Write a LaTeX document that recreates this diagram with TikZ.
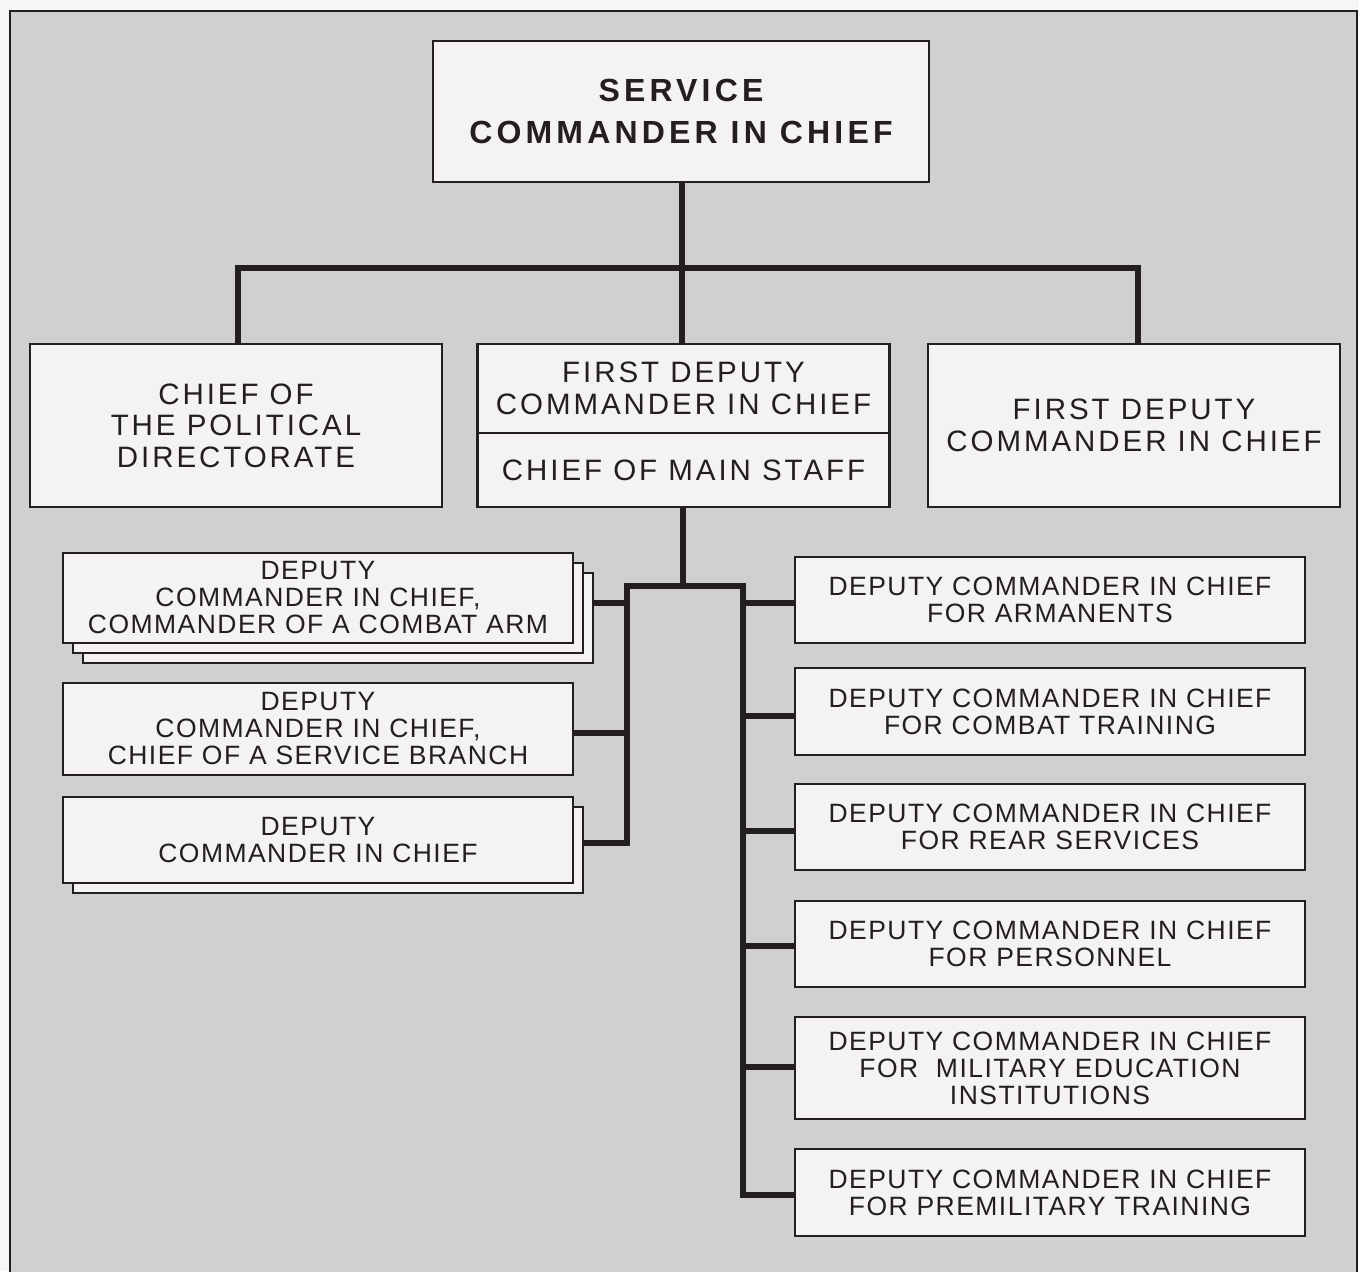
\documentclass[tikz,border=0pt]{standalone}
\usepackage{fontspec}
\setmainfont{Liberation Sans}
\newfontfamily\smf[LetterSpace=5.5]{Liberation Sans}
\newfontfamily\bgf[LetterSpace=10]{Liberation Sans}
\newfontfamily\tpf[LetterSpace=13]{Liberation Sans}
\definecolor{ink}{RGB}{35,31,32}
\definecolor{paper}{RGB}{244,243,241}
\definecolor{screen}{RGB}{208,208,206}
\definecolor{outer}{RGB}{246,246,244}
\pgfdeclarelayer{bg}
\pgfsetlayers{bg,main}
\tikzset{
  box/.style={draw=ink, line width=2.2pt, fill=paper, inner sep=0pt, align=center, text=ink},
  sbox/.style={box, minimum width=510pt, font={\smf\fontsize{26.5}{27}\selectfont}},
  bbox/.style={box, minimum width=412pt, minimum height=163pt, font={\bgf\fontsize{29.5}{31.5}\selectfont}},
  conn/.style={draw=ink, line width=5.5pt, line join=miter},
  frame/.style={draw=ink, line width=2pt}
}
\begin{document}
\begin{tikzpicture}[x=1pt,y=-1pt]
\useasboundingbox (0,0) rectangle (1359,1271);
% top
\node[box, minimum width=496pt, minimum height=141pt, font={\tpf\bfseries\fontsize{32}{42}\selectfont}] (sc) at (681,111.5) {SERVICE\\COMMANDER IN CHIEF};
% second row
\node[bbox] (pd) at (236,425.5) {CHIEF OF\\THE POLITICAL\\DIRECTORATE};
\node[bbox, minimum height=89pt] (fd1) at (683.5,388.5) {FIRST DEPUTY\\COMMANDER IN CHIEF};
\node[bbox, minimum height=74pt] (fd2) at (683.5,470) {CHIEF OF MAIN STAFF};
\node[bbox] (rd) at (1134,425.5) {FIRST DEPUTY\\COMMANDER IN CHIEF};
% left column
\node[sbox, minimum height=90pt] (l1c) at (338,618) {};
\node[sbox, minimum height=90pt] (l1b) at (328,608) {};
\node[sbox, minimum height=90pt] (l1) at (318,598) {DEPUTY\\COMMANDER IN CHIEF,\\COMMANDER OF A COMBAT ARM};
\node[sbox, minimum height=92pt] (l2) at (318,729) {DEPUTY\\COMMANDER IN CHIEF,\\CHIEF OF A SERVICE BRANCH};
\node[sbox, minimum height=86pt] (l3b) at (328,850) {};
\node[sbox, minimum height=86pt] (l3) at (318,840) {DEPUTY\\COMMANDER IN CHIEF};
% right column
\node[sbox, minimum height=86pt] (r1) at (1050,600) {DEPUTY COMMANDER IN CHIEF\\FOR ARMANENTS};
\node[sbox, minimum height=87pt] (r2) at (1050,711.5) {DEPUTY COMMANDER IN CHIEF\\FOR COMBAT TRAINING};
\node[sbox, minimum height=86pt] (r3) at (1050,827) {DEPUTY COMMANDER IN CHIEF\\FOR REAR SERVICES};
\node[sbox, minimum height=86pt] (r4) at (1050,944) {DEPUTY COMMANDER IN CHIEF\\FOR PERSONNEL};
\node[sbox, minimum height=102pt] (r5) at (1050,1068) {DEPUTY COMMANDER IN CHIEF\\FOR~ MILITARY EDUCATION\\INSTITUTIONS};
\node[sbox, minimum height=87pt] (r6) at (1050,1192.5) {DEPUTY COMMANDER IN CHIEF\\FOR PREMILITARY TRAINING};
% connector points
\coordinate (hc) at (682,268);
\coordinate (hl) at (238,268);
\coordinate (hr) at (1138,268);
\coordinate (mc) at (683,586);
\coordinate (ml) at (627,586);
\coordinate (mr) at (743,586);
\coordinate (al1) at (627,603);
\coordinate (al2) at (627,733);
\coordinate (al3) at (627,843);
\coordinate (ar1) at (743,603);
\coordinate (ar2) at (743,716);
\coordinate (ar3) at (743,831);
\coordinate (ar4) at (743,946);
\coordinate (ar5) at (743,1067);
\coordinate (ar6) at (743,1195);
\begin{pgfonlayer}{bg}
\fill[outer] (0,0) rectangle (1359,1271);
\fill[screen] (10,11) rectangle (1357,1290);
\draw[frame] (10,11) rectangle (1357,1290);
\draw[conn] (sc.south -| hc) -- (fd1.north -| hc);
\draw[conn] (pd.north -| hl) -- (hl) -- (hr) -- (rd.north -| hr);
\draw[conn] (fd2.south -| mc) -- (mc);
\draw[conn] (al3 -| l3.east) -- (al3) -- (ml) -- (mr) -- (ar6) -- (ar6 -| r6.west);
\draw[conn] (al1) -- (al1 -| l1.east);
\draw[conn] (al2) -- (al2 -| l2.east);
\draw[conn] (ar1) -- (ar1 -| r1.west);
\draw[conn] (ar2) -- (ar2 -| r2.west);
\draw[conn] (ar3) -- (ar3 -| r3.west);
\draw[conn] (ar4) -- (ar4 -| r4.west);
\draw[conn] (ar5) -- (ar5 -| r5.west);
\end{pgfonlayer}
\end{tikzpicture}
\end{document}
